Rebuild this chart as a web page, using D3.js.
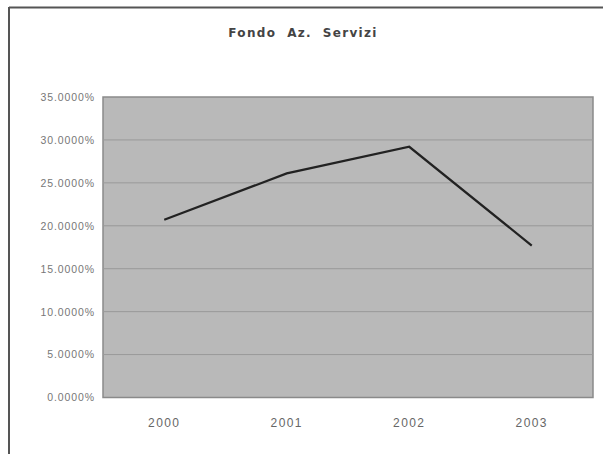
<!DOCTYPE html>
<html><head><meta charset="utf-8">
<script src="https://cdn.jsdelivr.net/npm/d3@7"></script>
<style>body{margin:0;background:#fff}svg{display:block}</style>
</head><body>
<script>
const categories = ["2000", "2001", "2002", "2003"];
const values = [20.7, 26.1, 29.2, 17.7];
const yTicks = [0, 5, 10, 15, 20, 25, 30, 35];
const title = "Fondo\u00a0\u00a0Az.\u00a0\u00a0Servizi";

const W = 603, H = 454;
const svg = d3.select("body").append("svg").attr("width", W).attr("height", H);
// outer frame
svg.append("line").attr("x1", 9).attr("x2", W).attr("y1", 7.5).attr("y2", 7.5).attr("stroke", "#555").attr("stroke-width", 2);
svg.append("line").attr("x1", 9).attr("x2", 9).attr("y1", 7).attr("y2", H).attr("stroke", "#555").attr("stroke-width", 2);

const m = {l: 103, r: 593, t: 97, b: 397.5};
const x = d3.scaleBand().domain(categories).range([m.l, m.r]);
const y = d3.scaleLinear().domain([0, 35]).range([m.b, m.t]);

svg.append("rect").attr("x", m.l).attr("y", m.t).attr("width", m.r - m.l).attr("height", m.b - m.t)
  .attr("fill", "#b9b9b9").attr("stroke", "#8a8a8a").attr("stroke-width", 1.5);

svg.append("g").selectAll("line").data(yTicks.slice(1, -1)).join("line")
  .attr("x1", m.l).attr("x2", m.r).attr("y1", d => y(d)).attr("y2", d => y(d))
  .attr("stroke", "#999").attr("stroke-width", 1);

const yAxis = d3.axisLeft(y).tickValues(yTicks).tickSize(0).tickPadding(8)
  .tickFormat(d => d3.format(".4f")(d) + "%");
const gy = svg.append("g").attr("transform", `translate(${m.l},0)`).call(yAxis);
gy.select(".domain").remove();
gy.selectAll("text").attr("font-family", "Liberation Sans, Arial, sans-serif").attr("font-size", 10.5)
  .attr("letter-spacing", 0.9).attr("fill", "#777");

const xAxis = d3.axisBottom(x).tickSize(0).tickPadding(21);
const gx = svg.append("g").attr("transform", `translate(0,${m.b})`).call(xAxis);
gx.select(".domain").remove();
gx.selectAll("text").attr("font-family", "Liberation Sans, Arial, sans-serif").attr("font-size", 12)
  .attr("letter-spacing", 1.4).attr("fill", "#666");

const line = d3.line().x((d, i) => x(categories[i]) + x.bandwidth() / 2).y(d => y(d));
svg.append("path").datum(values).attr("d", line).attr("fill", "none")
  .attr("stroke", "#222").attr("stroke-width", 2.2);

svg.append("text").attr("x", 303).attr("y", 37).attr("text-anchor", "middle")
  .attr("font-family", "DejaVu Sans, sans-serif").attr("font-weight", "bold").attr("font-size", 12)
  .attr("letter-spacing", 1.3).attr("fill", "#444").text(title);
</script>
</body></html>
